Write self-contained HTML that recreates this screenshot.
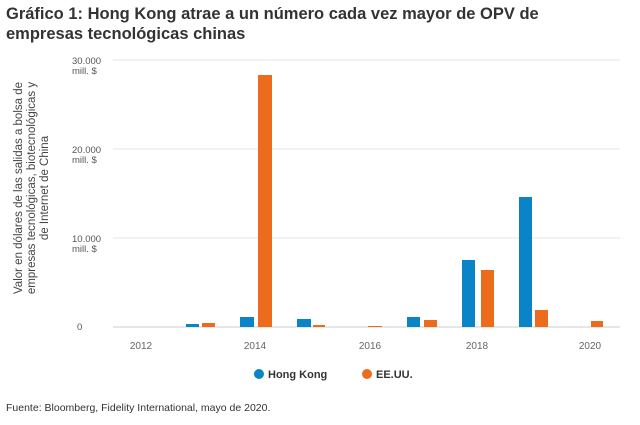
<!DOCTYPE html><html><head><style>
body{margin:0;width:640px;height:420px;background:#fff;font-family:"Liberation Sans",sans-serif;overflow:hidden}
</style></head><body>
<svg width="640" height="420" xmlns="http://www.w3.org/2000/svg" font-family="Liberation Sans, sans-serif">
<text x="6" y="19" font-size="16.5" font-weight="bold" fill="#333">Gráfico 1: Hong Kong atrae a un número cada vez mayor de OPV de</text>
<text x="6" y="39" font-size="16.5" font-weight="bold" fill="#333">empresas tecnológicas chinas</text>
<g stroke="#e6e6e6" stroke-width="1">
<line x1="113" y1="60" x2="620" y2="60"/><line x1="113" y1="149" x2="620" y2="149"/><line x1="113" y1="238" x2="620" y2="238"/>
</g>
<line x1="113" y1="327" x2="620" y2="327" stroke="#ccc"/>
<g font-size="9.5" fill="#555">
<text x="72" y="64">30.000</text><text x="72" y="74">mill. $</text>
<text x="72" y="153">20.000</text><text x="72" y="163">mill. $</text>
<text x="72" y="242">10.000</text><text x="72" y="252">mill. $</text>
<text x="77" y="330">0</text>
</g>
<g transform="translate(33,188) rotate(-90)" font-size="11.5" fill="#444" text-anchor="middle">
<text x="0" y="-11">Valor en dólares de las salidas a bolsa de</text>
<text x="0" y="2">empresas tecnológicas, biotecnológicas y</text>
<text x="0" y="15">de Internet de China</text>
</g>
<g fill="#0a84c6">
<rect x="186" y="324" width="13" height="3"/><rect x="240" y="317" width="14" height="10"/>
<rect x="297" y="319" width="14" height="8"/><rect x="407" y="317" width="13" height="10"/>
<rect x="462" y="260" width="13" height="67"/><rect x="519" y="197" width="13" height="130"/>
</g>
<g fill="#ec6b1c">
<rect x="202" y="323" width="13" height="4"/><rect x="258" y="75" width="14" height="252"/>
<rect x="313" y="325" width="12" height="2"/><rect x="368" y="326" width="14" height="1"/>
<rect x="424" y="320" width="13" height="7"/><rect x="481" y="270" width="13" height="57"/>
<rect x="535" y="310" width="13" height="17"/><rect x="591" y="321" width="12" height="6"/>
</g>
<g font-size="10" fill="#666" text-anchor="middle">
<text x="141" y="349">2012</text><text x="255" y="349">2014</text><text x="370" y="349">2016</text>
<text x="477" y="349">2018</text><text x="590" y="349">2020</text>
</g>
<circle cx="259" cy="374" r="5" fill="#0a84c6"/>
<text x="268" y="378" font-size="11" font-weight="bold" fill="#333">Hong Kong</text>
<circle cx="367" cy="374" r="5" fill="#ec6b1c"/>
<text x="376" y="378" font-size="11" font-weight="bold" fill="#333">EE.UU.</text>
<text x="6" y="411" font-size="10.5" fill="#333">Fuente: Bloomberg, Fidelity International, mayo de 2020.</text>
</svg>
</body></html>
